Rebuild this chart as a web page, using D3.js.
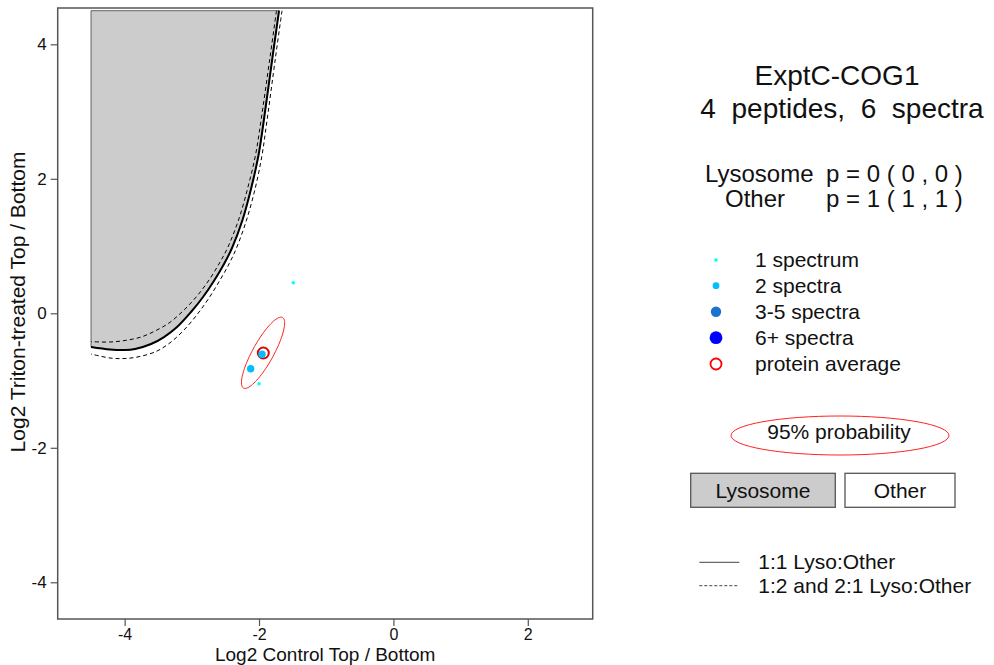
<!DOCTYPE html>
<html>
<head>
<meta charset="utf-8">
<script src="https://cdn.jsdelivr.net/npm/d3@7/dist/d3.min.js"></script>
<style>
  html, body { margin: 0; padding: 0; background: #fff; }
  svg { display: block; font-family: "Liberation Sans", Arial, sans-serif; }
  text { white-space: pre; }
</style>
</head>
<body>
<svg id="chart" width="994" height="665"></svg>
<script>
// ---------------- data ----------------
const xTicks = [-4, -2, 0, 2];
const yTicks = [-4, -2, 0, 2, 4];

// peptide points: [x, y, spectra]
const peptideX = [-1.49, -1.955, -2.124, -2.00];
const peptideY = [0.455, -0.61, -0.824, -1.047];
const peptideSpectra = [1, 2, 2, 1];

// protein average and 95% ellipse
const proteinAvg = [-1.936, -0.59];
const ellipseCenter = [-1.94, -0.587];
const ellipseAxes = [0.60, 0.156];   // semi-major, semi-minor (data units)
const ellipseAngleDeg = 61;

// 1:1 boundary (solid) and 1:2 / 2:1 boundaries (dashed)
const solidX = [-1.702, -1.799, -1.936, -2.007, -2.112, -2.246, -2.402, -2.513, -2.662, -2.833, -3.012, -3.220, -3.414, -3.607, -3.845, -3.994, -4.217, -4.500];
const solidY = [4.500, 3.810, 2.815, 2.354, 1.878, 1.387, 0.971, 0.748, 0.495, 0.242, 0.019, -0.204, -0.353, -0.457, -0.531, -0.546, -0.538, -0.501];
const innerX = [-1.740, -1.836, -1.978, -2.052, -2.164, -2.305, -2.469, -2.588, -2.744, -2.923, -3.116, -3.339, -3.548, -3.756, -3.994, -4.217, -4.500];
const innerY = [4.500, 3.810, 2.815, 2.354, 1.878, 1.387, 0.971, 0.748, 0.495, 0.257, 0.049, -0.144, -0.263, -0.353, -0.404, -0.427, -0.422];
const outerX = [-1.658, -1.754, -1.888, -1.955, -2.052, -2.186, -2.335, -2.439, -2.580, -2.744, -2.915, -3.116, -3.310, -3.518, -3.771, -3.994, -4.217, -4.500];
const outerY = [4.500, 3.810, 2.815, 2.354, 1.878, 1.387, 0.971, 0.748, 0.495, 0.228, -0.010, -0.248, -0.427, -0.561, -0.642, -0.672, -0.665, -0.605];
const regionCorner = [-4.5, 4.5];

// legend
const legendLabels = ["1 spectrum", "2 spectra", "3-5 spectra", "6+ spectra", "protein average"];
const legendColors = ["#00FFFF", "#00BFFF", "#1874CD", "#0000FF", "red"];
const legendRadius = [1.8, 3.4, 5.2, 6.4, 5.5];
const titleLines = ["ExptC-COG1", "4  peptides,  6  spectra"];
const probLabels = ["Lysosome", "Other"];
const probValues = ["p = 0 ( 0 , 0 )", "p = 1 ( 1 , 1 )"];
const lineLegend = ["1:1 Lyso:Other", "1:2 and 2:1 Lyso:Other"];

// ---------------- layout ----------------
const svg = d3.select("#chart");
svg.append("rect").attr("width", 994).attr("height", 665).attr("fill", "#fff");

const plot = { left: 57.7, right: 592.7, top: 8, bottom: 619 };
const x = d3.scaleLinear().domain([-4.996, 2.966]).range([plot.left, plot.right]);
const y = d3.scaleLinear().domain([-4.546, 4.540]).range([plot.bottom, plot.top]);

const colorFor = s => s >= 6 ? "#0000FF" : s >= 3 ? "#1874CD" : s === 2 ? "#00BFFF" : "#00FFFF";
const radiusFor = s => s >= 6 ? 6.4 : s >= 3 ? 5.2 : s === 2 ? 3.7 : 1.8;

svg.append("clipPath").attr("id", "clip").append("rect")
  .attr("x", plot.left).attr("y", plot.top)
  .attr("width", plot.right - plot.left).attr("height", plot.bottom - plot.top);

const g = svg.append("g").attr("clip-path", "url(#clip)");

// gray Lysosome region
const solidPts = solidX.map((v, i) => [v, solidY[i]]);
const line = d3.line().x(d => x(d[0])).y(d => y(d[1])).curve(d3.curveCatmullRom.alpha(0.5));
const poly = d3.line().x(d => x(d[0])).y(d => y(d[1]));

g.append("path")
  .attr("d", line(solidPts) + "L" + x(regionCorner[0]) + "," + y(regionCorner[1]) + "Z")
  .attr("fill", "#CCCCCC").attr("stroke", "#444").attr("stroke-width", 0.8);

// boundary lines
g.append("path").attr("d", line(innerX.map((v, i) => [v, innerY[i]])))
  .attr("fill", "none").attr("stroke", "#000").attr("stroke-width", 1).attr("stroke-dasharray", "4,3");
g.append("path").attr("d", line(outerX.map((v, i) => [v, outerY[i]])))
  .attr("fill", "none").attr("stroke", "#000").attr("stroke-width", 1).attr("stroke-dasharray", "4,3");
g.append("path").attr("d", line(solidPts))
  .attr("fill", "none").attr("stroke", "#000").attr("stroke-width", 2);

// 95% ellipse
const th = ellipseAngleDeg * Math.PI / 180;
const ellPts = d3.range(0, 361, 4).map(a => {
  const t = a * Math.PI / 180;
  const ex = ellipseAxes[0] * Math.cos(t), ey = ellipseAxes[1] * Math.sin(t);
  return [ellipseCenter[0] + ex * Math.cos(th) - ey * Math.sin(th),
          ellipseCenter[1] + ex * Math.sin(th) + ey * Math.cos(th)];
});
g.append("path").attr("d", poly(ellPts) + "Z")
  .attr("fill", "none").attr("stroke", "#FF2020").attr("stroke-width", 1);

// protein average
g.append("circle").attr("cx", x(proteinAvg[0])).attr("cy", y(proteinAvg[1]))
  .attr("r", 5.5).attr("fill", "none").attr("stroke", "#E00000").attr("stroke-width", 2);

// peptide points
g.selectAll("circle.pt").data(peptideX.map((v, i) => ({ x: v, y: peptideY[i], s: peptideSpectra[i] })))
  .enter().append("circle").attr("class", "pt")
  .attr("cx", d => x(d.x)).attr("cy", d => y(d.y))
  .attr("r", d => radiusFor(d.s)).attr("fill", d => colorFor(d.s));

// box
svg.append("rect").attr("x", plot.left).attr("y", plot.top)
  .attr("width", plot.right - plot.left).attr("height", plot.bottom - plot.top)
  .attr("fill", "none").attr("stroke", "#555").attr("stroke-width", 1.5);

// axes
const fmt = d => d < 0 ? "-" + Math.abs(d) : String(d);
const xAxis = d3.axisBottom(x).tickValues(xTicks).tickSize(7).tickPadding(3).tickFormat(fmt);
const gx = svg.append("g").attr("transform", `translate(0,${plot.bottom})`).call(xAxis);
gx.select(".domain").remove();
gx.selectAll("line").attr("stroke", "#555").attr("stroke-width", 1.2);
gx.selectAll("text").attr("font-size", 16).attr("fill", "#111")
  .attr("font-family", "Liberation Sans, Arial, sans-serif");

const yAxis = d3.axisLeft(y).tickValues(yTicks).tickSize(7).tickPadding(4).tickFormat(fmt);
const gy = svg.append("g").attr("transform", `translate(${plot.left},0)`).call(yAxis);
gy.select(".domain").remove();
gy.selectAll("line").attr("stroke", "#555").attr("stroke-width", 1.2);
gy.selectAll("text").attr("font-size", 17).attr("fill", "#111")
  .attr("font-family", "Liberation Sans, Arial, sans-serif");

svg.append("text").attr("x", (plot.left + plot.right) / 2).attr("y", 660.5)
  .attr("text-anchor", "middle").attr("font-size", 19).attr("fill", "#111")
  .text("Log2 Control Top / Bottom");
svg.append("text").attr("transform", `translate(25,302) rotate(-90)`)
  .attr("text-anchor", "middle").attr("font-size", 21).attr("fill", "#111")
  .text("Log2 Triton-treated Top / Bottom");

// ---------------- right panel ----------------
const titleX = [837, 842], titleY = [85, 118];
titleLines.forEach((t, i) => svg.append("text").attr("x", titleX[i]).attr("y", titleY[i])
  .attr("text-anchor", "middle").attr("font-size", 28).attr("fill", "#111").text(t));

const probLabelX = [705, 725], probY = [182, 207];
probLabels.forEach((t, i) => {
  svg.append("text").attr("x", probLabelX[i]).attr("y", probY[i]).attr("font-size", 24)
    .attr("fill", "#111").text(t);
  svg.append("text").attr("x", 826).attr("y", probY[i]).attr("font-size", 24)
    .attr("fill", "#111").text(probValues[i]);
});

const legY = [260, 285.7, 311.7, 337.7, 364];
legendLabels.forEach((t, i) => {
  const c = svg.append("circle").attr("cx", 716).attr("cy", legY[i]).attr("r", legendRadius[i]);
  if (i === 4) c.attr("fill", "none").attr("stroke", legendColors[i]).attr("stroke-width", 1.8);
  else c.attr("fill", legendColors[i]);
  svg.append("text").attr("x", 755).attr("y", legY[i] + 7).attr("font-size", 21)
    .attr("fill", "#111").text(t);
});

svg.append("ellipse").attr("cx", 840).attr("cy", 435.5).attr("rx", 109).attr("ry", 19.5)
  .attr("fill", "none").attr("stroke", "#FF2020").attr("stroke-width", 1);
svg.append("text").attr("x", 839).attr("y", 438.5).attr("text-anchor", "middle")
  .attr("font-size", 21).attr("fill", "#111").text("95% probability");

const boxX = [690.7, 845], boxW = [144.6, 110], boxFill = ["#CCCCCC", "#FFFFFF"];
probLabels.forEach((t, i) => {
  svg.append("rect").attr("x", boxX[i]).attr("y", 473.3).attr("width", boxW[i]).attr("height", 34)
    .attr("fill", boxFill[i]).attr("stroke", "#555").attr("stroke-width", 1.3);
  svg.append("text").attr("x", boxX[i] + boxW[i] / 2).attr("y", 497.5).attr("text-anchor", "middle")
    .attr("font-size", 21).attr("fill", "#111").text(t);
});

const lineLegY = [562.3, 585.7];
lineLegend.forEach((t, i) => {
  svg.append("line").attr("x1", 699.3).attr("x2", 739.3).attr("y1", lineLegY[i]).attr("y2", lineLegY[i])
    .attr("stroke", "#444").attr("stroke-width", 1)
    .attr("stroke-dasharray", i === 1 ? "3,2" : null);
  svg.append("text").attr("x", 758.3).attr("y", lineLegY[i] + 7).attr("font-size", 21)
    .attr("fill", "#111").text(t);
});
</script>
</body>
</html>
